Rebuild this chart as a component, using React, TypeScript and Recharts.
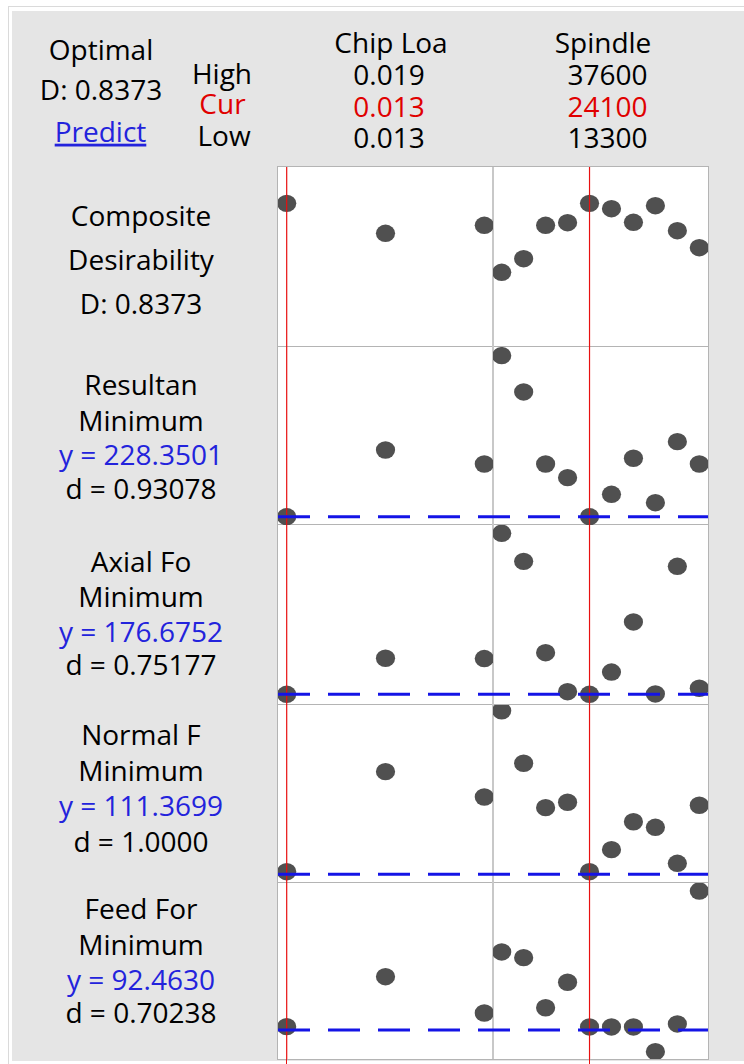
import { ScatterChart, Scatter, XAxis, YAxis, ReferenceLine } from 'recharts'

// factor levels
const chipLevels = [0.013, 0.016, 0.019]
const spindleLevels = [13300, 16000, 18700, 21400, 24100, 26800, 29500, 32200, 34900, 37600]
const chipCur = 0.013
const spindleCur = 24100

// header texts
const factorNames = ['Chip Loa', 'Spindle']
const highValues = ['0.019', '37600']
const curValues = ['0.013', '24100']
const lowValues = ['0.013', '13300']

// responses
const rowTitles = [['Composite', 'Desirability'], ['Resultan', 'Minimum'], ['Axial Fo', 'Minimum'], ['Normal F', 'Minimum'], ['Feed For', 'Minimum']]
const yLabels = ['', 'y = 228.3501', 'y = 176.6752', 'y = 111.3699', 'y = 92.4630']
const dLabels = ['D: 0.8373', 'd = 0.93078', 'd = 0.75177', 'd = 1.0000', 'd = 0.70238']
const currentY = [0.8373, 228.3501, 176.6752, 111.3699, 92.463]

// predicted values
const desirChip = [0.8373, 0.7774, 0.7934]
const desirSpindle = [0.6994, 0.7266, 0.7934, 0.7986, 0.8373, 0.8266, 0.7994, 0.8326, 0.7826, 0.7486]
const resultChip = [228.35, 272.8, 263.5]
const resultSpindle = [335.7, 311.5, 263.5, 254.4, 228.35, 243.3, 267.3, 237.7, 278.4, 263.5]
const axialChip = [176.68, 200.7, 200.5]
const axialSpindle = [284.0, 265.3, 204.4, 178.4, 176.68, 191.5, 224.9, 176.9, 262.0, 180.7]
const normalChip = [113.1, 179.8, 162.9]
const normalSpindle = [220.4, 185.4, 155.8, 159.4, 113.1, 127.8, 146.4, 142.7, 118.7, 157.4]
const feedChip = [94.7, 128.0, 103.8]
const feedSpindle = [144.5, 140.7, 107.3, 124.3, 94.5, 94.5, 94.5, 78.0, 96.5, 185.1]

const chipSeries = [desirChip, resultChip, axialChip, normalChip, feedChip]
const spindleSeries = [desirSpindle, resultSpindle, axialSpindle, normalSpindle, feedSpindle]
const yDomains: [number, number][] = [
  [0.55, 0.91],
  [222.82, 341.48],
  [169.54, 289.54],
  [105.57, 224.24],
  [73.13, 190.46],
]

const FONT = '"Open Sans", "Noto Sans", sans-serif'
const RED = '#e81010'
const PLOT_LEFT = 278
const PLOT_MID = 493
const PLOT_RIGHT = 708
const ROW_TOPS = [167, 347, 525, 705, 883]
const PLOT_BOTTOM = 1059
const PAD = 0.044

function padDomain(levels: number[]): [number, number] {
  const lo = levels[0]
  const hi = levels[levels.length - 1]
  const p = (hi - lo) * PAD
  return [lo - p, hi + p]
}

const Dot = (props: any) => (
  <ellipse cx={props.cx} cy={props.cy} rx={9.6} ry={8.7} fill="#505050" />
)

function Cell({ xs, ys, cur, yLine, xDomain, yDomain, left, top, width, height, showLine, dashOffset }: any) {
  const data = xs.map((x: number, i: number) => ({ x, y: ys[i] }))
  return (
    <div style={{ position: 'absolute', left, top, width, height }}>
      <ScatterChart width={width} height={height} margin={{ top: 0, right: 0, bottom: 0, left: 0 }}>
        <XAxis type="number" dataKey="x" domain={xDomain} hide allowDataOverflow />
        <YAxis type="number" dataKey="y" domain={yDomain} hide allowDataOverflow />
        <Scatter data={data} shape={Dot} isAnimationActive={false} />
        <ReferenceLine x={cur} stroke={RED} strokeWidth={1.2} zIndex={800} />
        {showLine && (
          <ReferenceLine
            y={yLine}
            stroke="#1414e6"
            strokeWidth={3}
            strokeDasharray="32 18"
            strokeDashoffset={dashOffset}
            zIndex={800}
          />
        )}
      </ScatterChart>
    </div>
  )
}

export default function App() {
  const chipDomain = padDomain(chipLevels)
  const spindleDomain = padDomain(spindleLevels)
  const rowBottoms = [...ROW_TOPS.slice(1), PLOT_BOTTOM]
  const labelBase = [
    [226, 270, 0, 314.3],
    [395, 431, 465, 499.3],
    [571.7, 607.3, 641.7, 675],
    [745, 780.7, 816, 851.7],
    [919.3, 955, 990, 1023.3],
  ]

  return (
    <div style={{ position: 'absolute', left: 0, top: 0, width: 744, height: 1064, background: '#fff', overflow: 'hidden' }}>
      <style>{'.recharts-surface{overflow:visible}'}</style>
      <div style={{ position: 'absolute', left: 8, top: 6, width: 740, height: 1060, border: '1px solid #dadada' }} />
      <div style={{ position: 'absolute', left: 12, top: 11, width: 732, height: 1050, background: '#e5e5e5' }} />

      {/* plot frame */}
      <div
        style={{
          position: 'absolute',
          left: PLOT_LEFT - 1,
          top: ROW_TOPS[0] - 1,
          width: PLOT_RIGHT - PLOT_LEFT,
          height: PLOT_BOTTOM - ROW_TOPS[0],
          background: '#fff',
          border: '1px solid #b4b4b4',
        }}
      />
      {ROW_TOPS.slice(1).map((t) => (
        <div key={t} style={{ position: 'absolute', left: PLOT_LEFT, top: t - 1, width: PLOT_RIGHT - PLOT_LEFT, height: 1, background: '#b4b4b4' }} />
      ))}
      <div style={{ position: 'absolute', left: PLOT_MID - 1, top: ROW_TOPS[0], width: 2, height: PLOT_BOTTOM - ROW_TOPS[0], background: '#c8c8c8' }} />
      <div style={{ position: 'absolute', left: 286, top: PLOT_BOTTOM, width: 1, height: 6, background: RED }} />
      <div style={{ position: 'absolute', left: 589, top: PLOT_BOTTOM, width: 1, height: 6, background: RED }} />

      {ROW_TOPS.map((t, r) => (
        <div key={r}>
          <Cell
            xs={chipLevels}
            ys={chipSeries[r]}
            cur={chipCur}
            yLine={currentY[r]}
            xDomain={chipDomain}
            yDomain={yDomains[r]}
            left={PLOT_LEFT}
            top={t}
            width={PLOT_MID - PLOT_LEFT}
            height={rowBottoms[r] - t}
            showLine={r > 0}
            dashOffset={0}
          />
          <Cell
            xs={spindleLevels}
            ys={spindleSeries[r]}
            cur={spindleCur}
            yLine={currentY[r]}
            xDomain={spindleDomain}
            yDomain={yDomains[r]}
            left={PLOT_MID}
            top={t}
            width={PLOT_RIGHT - PLOT_MID}
            height={rowBottoms[r] - t}
            showLine={r > 0}
            dashOffset={(PLOT_MID - PLOT_LEFT) % 50}
          />
        </div>
      ))}

      <svg width={744} height={1064} style={{ position: 'absolute', left: 0, top: 0, pointerEvents: 'none' }} fontFamily={FONT} fontSize={28}>
        <g textAnchor="middle" fill="#000">
          <text x={101} y={60}>Optimal</text>
          <text x={101} y={100}>D: 0.8373</text>
          <text x={100.5} y={141.7} fill="#2323dc" style={{ textDecoration: 'underline' }}>Predict</text>
          <text x={222} y={83.5}>High</text>
          <text x={222.5} y={113.5} fill="#e00000">Cur</text>
          <text x={224} y={145.5}>Low</text>
          {factorNames.map((n, i) => (
            <g key={n}>
              <text x={i === 0 ? 391 : 603} y={53.3}>{n}</text>
              <text x={i === 0 ? 389 : 607.5} y={85}>{highValues[i]}</text>
              <text x={i === 0 ? 389 : 607.5} y={116.5} fill="#e00000">{curValues[i]}</text>
              <text x={i === 0 ? 389 : 607.5} y={148}>{lowValues[i]}</text>
            </g>
          ))}
          {rowTitles.map((lines, r) => (
            <g key={r}>
              <text x={141} y={labelBase[r][0]}>{lines[0]}</text>
              <text x={141} y={labelBase[r][1]}>{lines[1]}</text>
              {yLabels[r] && (
                <text x={141} y={labelBase[r][2]} fill="#2323dc">{yLabels[r]}</text>
              )}
              <text x={141} y={labelBase[r][3]}>{dLabels[r]}</text>
            </g>
          ))}
        </g>
      </svg>
    </div>
  )
}
